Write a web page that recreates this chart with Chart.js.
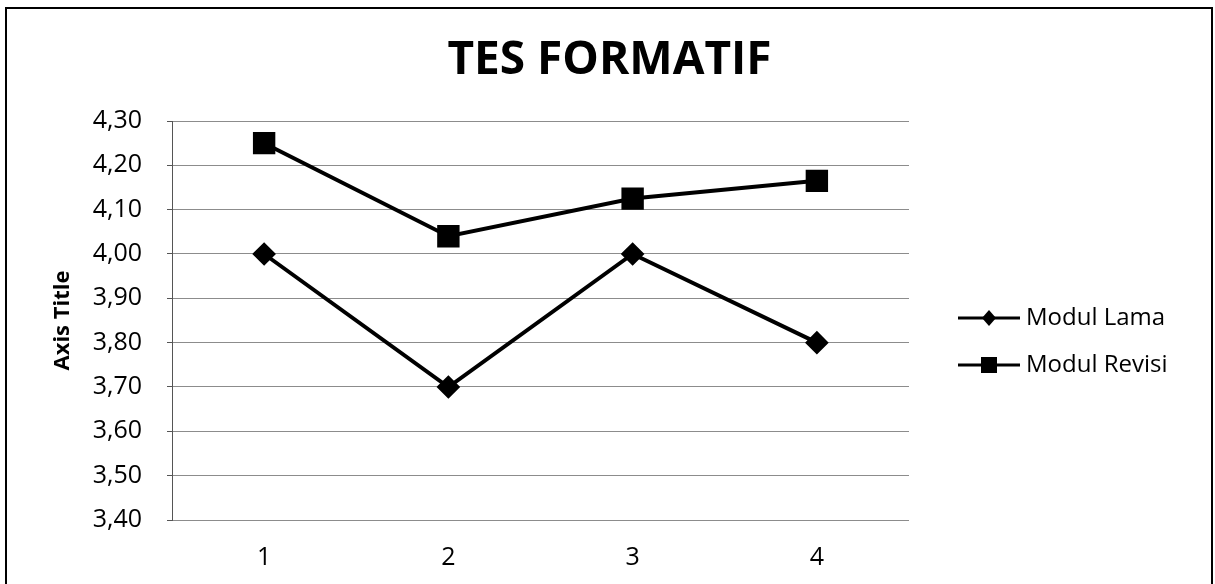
<!DOCTYPE html>
<html><head><meta charset="utf-8">
<script src="https://cdn.jsdelivr.net/npm/chart.js@4.4.1/dist/chart.umd.min.js"></script>
<style>html,body{margin:0;padding:0;background:#fff;}#wrap{width:1215px;height:584px;position:relative;}</style>
</head><body><div id="wrap"><canvas id="c"></canvas></div>
<script>
const chartTitle = 'TES FORMATIF';
const yAxisTitle = 'Axis Title';
const categories = ['1', '2', '3', '4'];
const seriesNames = ['Modul Lama', 'Modul Revisi'];
const modulLama = [4.00, 3.70, 4.00, 3.80];
const modulRevisi = [4.25, 4.04, 4.125, 4.165];
const yTickValues = [3.40, 3.50, 3.60, 3.70, 3.80, 3.90, 4.00, 4.10, 4.20, 4.30];
const yTickLabels = ['3,40', '3,50', '3,60', '3,70', '3,80', '3,90', '4,00', '4,10', '4,20', '4,30'];

const FONT = '"Open Sans", "DejaVu Sans", sans-serif';

function legendImage(kind) {
  const c = document.createElement('canvas');
  c.width = 62; c.height = 24;
  const g = c.getContext('2d');
  g.fillStyle = '#000';
  g.fillRect(0, 10.5, 62, 3);
  if (kind === 'diamond') {
    g.beginPath();
    g.moveTo(31, 4); g.lineTo(38, 12); g.lineTo(31, 20); g.lineTo(24, 12); g.closePath(); g.fill();
  } else {
    g.fillRect(23, 4, 16, 16);
  }
  return c;
}
const legendImages = [legendImage('diamond'), legendImage('square')];

const framePlugin = {
  id: 'frame',
  beforeDraw(chart) {
    const ctx = chart.ctx;
    ctx.save();
    ctx.fillStyle = '#fff';
    ctx.fillRect(0, 0, chart.width, chart.height);
    ctx.strokeStyle = '#000';
    ctx.lineWidth = 2;
    ctx.strokeRect(6, 8, 1206, 620);
    ctx.restore();
  },
  afterLayout(chart) {
    const l = chart.legend;
    if (l) {
      const w = l.width;
      l.left = 941; l.right = 941 + w;
      l.top = 283; l.bottom = 584; l.height = 301;
    }
    const t = chart.titleBlock;
    if (t) { t.left = 0; t.right = 1219; t.width = 1219; }
  }
};

new Chart(document.getElementById('c'), {
  type: 'line',
  data: {
    labels: categories,
    datasets: [
      { label: seriesNames[0], data: modulLama, borderColor: '#000', backgroundColor: '#000',
        borderWidth: 4, pointStyle: 'rectRot', pointRadius: 9, pointHoverRadius: 9,
        pointBackgroundColor: '#000', pointBorderColor: '#000', tension: 0 },
      { label: seriesNames[1], data: modulRevisi, borderColor: '#000', backgroundColor: '#000',
        borderWidth: 4, pointStyle: 'rect', pointRadius: 13, pointHoverRadius: 13,
        pointBackgroundColor: '#000', pointBorderColor: '#000', tension: 0 }
    ]
  },
  options: {
    responsive: true,
    maintainAspectRatio: false,
    animation: false,
    layout: { padding: { left: 46, right: 306, top: 10, bottom: -12 } },
    plugins: {
      title: { display: true, text: chartTitle, color: '#000',
        font: { family: FONT, size: 46, weight: 'bold' }, padding: { top: 23.4, bottom: 32.4 } },
      legend: {
        position: 'chartArea', align: 'start',
        labels: {
          usePointStyle: true, pointStyleWidth: 50, padding: 23, color: '#000',
          font: { family: FONT, size: 24 },
          generateLabels(chart) {
            const items = Chart.defaults.plugins.legend.labels.generateLabels(chart);
            items.forEach((it, i) => { it.pointStyle = legendImages[i]; });
            return items;
          }
        }
      },
      tooltip: { enabled: false }
    },
    scales: {
      x: {
        offset: true,
        grid: { display: false, drawTicks: false },
        border: { display: false },
        ticks: { color: '#000', padding: 23, font: { family: FONT, size: 25 } }
      },
      y: {
        min: 3.4, max: 4.3,
        afterBuildTicks(scale) { scale.ticks = yTickValues.map(v => ({ value: v })); },
        afterFit(scale) { scale.width = 126; },
        grid: { color: '#8c8c8c', lineWidth: 1, tickLength: 5, tickColor: '#555' },
        border: { display: true, color: '#555', width: 1 },
        ticks: { color: '#000', padding: 25, font: { family: FONT, size: 25 },
          callback(v, i) { return yTickLabels[i]; } },
        title: { display: true, text: yAxisTitle, color: '#000',
          font: { family: FONT, size: 22, weight: 'bold' }, padding: { top: 4, bottom: 16 } }
      }
    }
  },
  plugins: [framePlugin]
});
</script>
</body></html>
